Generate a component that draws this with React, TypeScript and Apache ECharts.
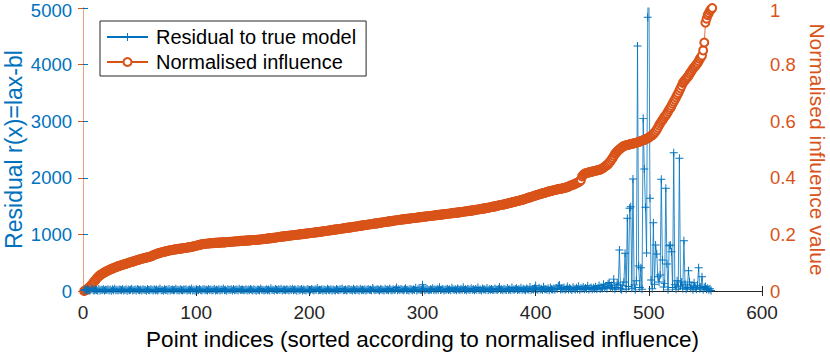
import React, { useEffect, useRef } from "react";
import * as echarts from "echarts";

const residualName = "Residual to true model";
const influenceName = "Normalised influence";

const xTicks = [0, 100, 200, 300, 400, 500, 600];

// Residual |Ax-b| per point (index 1..556), left axis
const residual: number[] = [
  12, 25, 8, 31, 17, 5, 22, 40, 14, 9, 28, 19, 6, 35, 11, 24, 16, 30, 7, 21,
  18, 33, 10, 26, 4, 29, 15, 38, 12, 20, 8, 27, 23, 13, 36, 9, 19, 31, 6, 25,
  14, 22, 41, 11, 17, 28, 7, 34, 20, 13, 26, 9, 30, 16, 24, 5, 37, 18, 12, 29,
  21, 8, 32, 15, 27, 10, 23, 44, 13, 19, 6, 30, 17, 25, 11, 35, 9, 22, 28, 14,
  16, 39, 12, 24, 7, 31, 19, 10, 27, 21, 33, 8, 18, 26, 14, 42, 11, 23, 5, 29,
  20, 13, 36, 17, 9, 25, 30, 12, 22, 8, 34, 16, 28, 11, 19, 38, 7, 24, 15, 31,
  10, 27, 18, 45, 13, 21, 6, 32, 24, 16, 29, 9, 35, 14, 20, 26, 11, 40, 17, 23,
  28, 12, 19, 33, 8, 25, 15, 37, 22, 10, 30, 18, 6, 27, 21, 13, 43, 16, 24, 9,
  19, 31, 14, 26, 11, 48, 17, 23, 8, 35, 20, 12, 29, 16, 38, 7, 25, 21, 14, 33,
  24, 9, 30, 18, 41, 13, 27, 20, 6, 34, 15, 22, 37, 11, 28, 17, 10, 31, 25, 14,
  13, 36, 21, 8, 29, 16, 52, 12, 24, 19, 33, 10, 26, 18, 7, 39, 22, 15, 30, 11,
  27, 17, 9, 34, 20, 14, 31, 23, 46, 12, 18, 28, 8, 25, 35, 16, 21, 11, 38, 19,
  15, 29, 22, 10, 40, 18, 26, 13, 32, 7, 24, 36, 17, 20, 12, 55, 28, 14, 23, 30,
  21, 11, 33, 26, 16, 9, 38, 19, 27, 14, 45, 22, 10, 31, 18, 25, 62, 13, 29, 17,
  34, 20, 12, 28, 47, 16, 23, 9, 37, 25, 14, 30, 19, 58, 11, 26, 33, 18, 21, 110,
  42, 15, 27, 36, 19, 12, 31, 24, 50, 17, 29, 13, 38, 22, 65, 16, 26, 34, 11, 28,
  23, 40, 18, 30, 14, 57, 25, 20, 33, 12, 44, 27, 16, 35, 21, 68, 19, 29, 13, 38,
  26, 17, 48, 22, 31, 15, 36, 24, 60, 18, 28, 11, 42, 25, 33, 19, 54, 14, 30, 21,
  37, 23, 16, 45, 27, 19, 34, 72, 21, 29, 13, 40, 26, 18, 51, 24, 32, 15, 63, 28,
  20, 35, 47, 17, 30, 24, 58, 19, 38, 26, 14, 44, 31, 22, 69, 18, 36, 27, 49, 95,
  33, 21, 56, 25, 40, 18, 74, 29, 36, 23, 48, 15, 62, 31, 27, 42, 20, 53, 34, 88,
  105, 26, 45, 30, 61, 22, 38, 79, 28, 51, 35, 19, 66, 41, 25, 57, 32, 84, 24, 47,
  39, 70, 29, 55, 36, 92, 27, 48, 63, 33, 58, 41, 76, 30, 52, 98, 37, 64, 45, 120,
  55, 85, 40, 130, 150, 62, 95, 48, 210,
  30, 60, 140, 110, 724, 40, 20, 95, 160, 666,
  30, 1284, 80, 1461, 1490, 50, 1979, 108, 20, 180,
  4329, 442, 60, 410, 30, 3050, 2155, 1478, 671, 4835,
  5600, 1637, 194, 40, 1207, 120, 813, 654, 250, 160,
  283, 1973, 548, 70, 130, 1814, 477, 20, 800, 813,
  695, 60, 2443, 110, 30, 180, 70, 2344, 90, 160,
  40, 889, 120, 30, 60, 359, 160, 50, 90, 20,
  147, 60, 30, 100, 412, 40, 70, 253, 20, 60,
  80, 30, 50, 20, 40, 10,
];

// Normalised influence per point (index 1..556), right axis
const influence: number[] = [
  0.000, 0.002, 0.004, 0.008, 0.011, 0.015, 0.019, 0.024, 0.029, 0.034,
  0.039, 0.044, 0.048, 0.052, 0.056, 0.058, 0.061, 0.063, 0.066, 0.068,
  0.070, 0.072, 0.074, 0.076, 0.078, 0.079, 0.081, 0.083, 0.084, 0.086,
  0.087, 0.089, 0.090, 0.091, 0.093, 0.094, 0.095, 0.096, 0.098, 0.099,
  0.100, 0.102, 0.103, 0.104, 0.105, 0.107, 0.108, 0.109, 0.110, 0.112,
  0.113, 0.114, 0.115, 0.116, 0.117, 0.118, 0.119, 0.120, 0.121, 0.122,
  0.124, 0.126, 0.128, 0.129, 0.131, 0.132, 0.134, 0.135, 0.136, 0.137,
  0.138, 0.139, 0.140, 0.141, 0.142, 0.143, 0.144, 0.144, 0.145, 0.146,
  0.147, 0.147, 0.148, 0.149, 0.149, 0.150, 0.150, 0.151, 0.151, 0.152,
  0.153, 0.153, 0.154, 0.155, 0.155, 0.156, 0.157, 0.158, 0.159, 0.160,
  0.161, 0.162, 0.163, 0.164, 0.165, 0.166, 0.166, 0.167, 0.167, 0.168,
  0.168, 0.168, 0.169, 0.169, 0.169, 0.170, 0.170, 0.170, 0.171, 0.171,
  0.171, 0.171, 0.172, 0.172, 0.172, 0.172, 0.173, 0.173, 0.173, 0.174,
  0.174, 0.174, 0.175, 0.175, 0.175, 0.176, 0.176, 0.176, 0.177, 0.177,
  0.177, 0.177, 0.178, 0.178, 0.178, 0.179, 0.179, 0.179, 0.180, 0.180,
  0.180, 0.180, 0.181, 0.181, 0.181, 0.182, 0.182, 0.183, 0.183, 0.184,
  0.184, 0.185, 0.185, 0.186, 0.186, 0.187, 0.187, 0.188, 0.188, 0.189,
  0.189, 0.190, 0.191, 0.191, 0.192, 0.192, 0.193, 0.193, 0.194, 0.194,
  0.195, 0.195, 0.196, 0.196, 0.197, 0.197, 0.198, 0.198, 0.199, 0.199,
  0.200, 0.200, 0.201, 0.201, 0.202, 0.202, 0.203, 0.203, 0.204, 0.204,
  0.205, 0.205, 0.206, 0.206, 0.207, 0.207, 0.208, 0.208, 0.209, 0.209,
  0.210, 0.211, 0.211, 0.212, 0.212, 0.213, 0.214, 0.214, 0.215, 0.215,
  0.216, 0.217, 0.217, 0.218, 0.218, 0.219, 0.219, 0.220, 0.221, 0.221,
  0.222, 0.222, 0.223, 0.224, 0.224, 0.225, 0.225, 0.226, 0.227, 0.227,
  0.228, 0.228, 0.229, 0.230, 0.230, 0.231, 0.232, 0.232, 0.233, 0.233,
  0.234, 0.235, 0.235, 0.236, 0.236, 0.237, 0.238, 0.238, 0.239, 0.239,
  0.240, 0.241, 0.241, 0.242, 0.243, 0.243, 0.244, 0.244, 0.245, 0.246,
  0.246, 0.247, 0.247, 0.248, 0.249, 0.249, 0.250, 0.250, 0.251, 0.252,
  0.252, 0.253, 0.253, 0.254, 0.254, 0.255, 0.255, 0.256, 0.256, 0.257,
  0.257, 0.258, 0.258, 0.259, 0.259, 0.260, 0.260, 0.261, 0.261, 0.262,
  0.262, 0.263, 0.263, 0.264, 0.264, 0.265, 0.265, 0.266, 0.266, 0.267,
  0.267, 0.268, 0.268, 0.269, 0.269, 0.270, 0.270, 0.271, 0.271, 0.272,
  0.272, 0.273, 0.273, 0.274, 0.274, 0.275, 0.275, 0.276, 0.276, 0.277,
  0.277, 0.278, 0.278, 0.279, 0.279, 0.280, 0.281, 0.281, 0.282, 0.282,
  0.283, 0.283, 0.284, 0.285, 0.285, 0.286, 0.287, 0.287, 0.288, 0.289,
  0.289, 0.290, 0.291, 0.291, 0.292, 0.293, 0.294, 0.294, 0.295, 0.296,
  0.297, 0.298, 0.298, 0.299, 0.300, 0.301, 0.302, 0.303, 0.304, 0.305,
  0.305, 0.306, 0.307, 0.308, 0.309, 0.310, 0.311, 0.312, 0.313, 0.314,
  0.315, 0.316, 0.317, 0.318, 0.319, 0.320, 0.321, 0.322, 0.323, 0.325,
  0.326, 0.327, 0.329, 0.330, 0.331, 0.332, 0.334, 0.335, 0.336, 0.338,
  0.339, 0.340, 0.341, 0.343, 0.344, 0.345, 0.346, 0.347, 0.348, 0.350,
  0.351, 0.352, 0.353, 0.354, 0.355, 0.356, 0.357, 0.358, 0.359, 0.360,
  0.361, 0.361, 0.362, 0.363, 0.364, 0.365, 0.366, 0.367, 0.369, 0.371,
  0.373, 0.374, 0.376, 0.377, 0.379, 0.381, 0.383, 0.385, 0.388, 0.392,
  0.405, 0.410, 0.414, 0.416, 0.417, 0.418, 0.419, 0.420, 0.421, 0.422,
  0.423, 0.424, 0.425, 0.426, 0.427, 0.428, 0.429, 0.431, 0.433, 0.436,
  0.439, 0.442, 0.445, 0.449, 0.453, 0.458, 0.464, 0.470, 0.477, 0.484,
  0.488, 0.493, 0.497, 0.500, 0.504, 0.507, 0.510, 0.512, 0.514, 0.515,
  0.516, 0.517, 0.518, 0.519, 0.520, 0.521, 0.522, 0.523, 0.524, 0.525,
  0.527, 0.528, 0.530, 0.531, 0.533, 0.534, 0.536, 0.538, 0.540, 0.542,
  0.545, 0.548, 0.551, 0.555, 0.559, 0.564, 0.570, 0.577, 0.585, 0.592,
  0.598, 0.604, 0.610, 0.616, 0.621, 0.627, 0.634, 0.641, 0.647, 0.654,
  0.662, 0.669, 0.676, 0.684, 0.692, 0.699, 0.708, 0.716, 0.725, 0.735,
  0.740, 0.745, 0.750, 0.755, 0.760, 0.767, 0.773, 0.779, 0.785, 0.790,
  0.795, 0.800, 0.805, 0.812, 0.820, 0.826, 0.832, 0.850, 0.878, 0.948,
  0.962, 0.975, 0.982, 0.990, 0.995, 1.000,
];

const BLUE = "#0072BD";
const ORANGE = "#D95319";
const FONT = "'Liberation Sans', Arial, sans-serif";
const PLUS = "path://M-0.12,-1H0.12V1H-0.12Z M-1,-0.12H1V0.12H-1Z";

export default function App() {
  const ref = useRef<HTMLDivElement>(null);
  useEffect(() => {
    if (!ref.current) return;
    const chart = echarts.init(ref.current, undefined, { renderer: "svg" });
    const resData = residual.map((v, i) => [i + 1, v]);
    const infData = influence.map((v, i) => [i + 1, v]);
    chart.setOption({
      animation: false,
      backgroundColor: "#fff",
      textStyle: { fontFamily: FONT },
      grid: { left: 83, right: 68, top: 8, bottom: 62, containLabel: false, outerBoundsMode: "none" },
      legend: {
        data: [residualName, influenceName],
        orient: "vertical",
        left: 100,
        top: 21,
        padding: [5, 10, 3, 6],
        itemGap: 3,
        itemWidth: 41,
        itemHeight: 10,
        borderColor: "#262626",
        borderWidth: 1,
        backgroundColor: "#fff",
        textStyle: { fontSize: 20, color: "#000", fontFamily: FONT, lineHeight: 22, padding: [0, 0, 0, 3] },
      },
      xAxis: [
        {
          type: "value",
          min: xTicks[0],
          max: xTicks[xTicks.length - 1],
          interval: 100,
          position: "bottom",
          name: "Point indices (sorted according to normalised influence)",
          nameLocation: "middle",
          nameGap: 37,
          nameMoveOverlap: false,
          nameTextStyle: { fontSize: 22.5, color: "#000", fontFamily: FONT },
          axisLine: { lineStyle: { color: "#262626", width: 1 } },
          axisTick: { inside: true, length: 5, lineStyle: { color: "#262626" } },
          axisLabel: { fontSize: 19, color: "#262626", margin: 12, fontFamily: FONT },
          splitLine: { show: false },
        },
        {
          type: "value",
          min: xTicks[0],
          max: xTicks[xTicks.length - 1],
          interval: 100,
          position: "top",
          axisLine: { lineStyle: { color: "#262626", width: 1 } },
          axisTick: { inside: true, length: 5, lineStyle: { color: "#262626" } },
          axisLabel: { show: false },
          splitLine: { show: false },
        },
      ],
      yAxis: [
        {
          type: "value",
          min: 0,
          max: 5000,
          interval: 1000,
          position: "left",
          name: "Residual r(x)=lax-bl",
          nameLocation: "middle",
          nameGap: 58,
          nameMoveOverlap: false,
          nameTextStyle: { fontSize: 23, color: BLUE, fontFamily: FONT },
          axisLine: { show: true, lineStyle: { color: "#5c9fd4", width: 1 } },
          axisTick: { show: true, inside: true, length: 5, lineStyle: { color: BLUE } },
          axisLabel: {
            fontSize: 18.5,
            color: BLUE,
            margin: 11,
            fontFamily: FONT,
            formatter: (v: number) => (v === 5000 ? "{t|" + v + "}" : String(v)),
            rich: { t: { fontSize: 18.5, color: BLUE, fontFamily: FONT, padding: [4, 0, 0, 0] } },
          },
          splitLine: { show: false },
        },
        {
          type: "value",
          min: 0,
          max: 1,
          interval: 0.2,
          position: "right",
          name: "Normalised influence value",
          nameLocation: "middle",
          nameGap: 45,
          nameMoveOverlap: false,
          nameRotate: -90,
          nameTextStyle: { fontSize: 21, color: ORANGE, fontFamily: FONT },
          axisLine: { show: true, lineStyle: { color: "#eaa282", width: 1 } },
          axisTick: { show: true, inside: true, length: 5, lineStyle: { color: ORANGE } },
          axisLabel: {
            fontSize: 18.5,
            color: ORANGE,
            margin: 8,
            fontFamily: FONT,
            formatter: (v: number) => (v === 1 ? "{t|1}" : String(v)),
            rich: { t: { fontSize: 18.5, color: ORANGE, fontFamily: FONT, padding: [4, 0, 0, 0] } },
          },
          splitLine: { show: false },
        },
      ],
      series: [
        {
          name: influenceName,
          type: "line",
          xAxisIndex: 0,
          yAxisIndex: 1,
          data: infData,
          symbol: "emptyCircle",
          symbolSize: 8,
          showAllSymbol: true,
          clip: true,
          lineStyle: { color: ORANGE, width: 0.8 },
          itemStyle: { color: ORANGE, borderColor: ORANGE, borderWidth: 0.9 },
          emphasis: { disabled: true },
        },
        {
          name: residualName,
          type: "line",
          xAxisIndex: 0,
          yAxisIndex: 0,
          data: resData,
          symbol: PLUS,
          symbolSize: 8,
          showAllSymbol: true,
          clip: true,
          lineStyle: { color: BLUE, width: 0.8 },
          itemStyle: { color: BLUE },
          emphasis: { disabled: true },
        },
      ],
    });
    return () => chart.dispose();
  }, []);
  return <div ref={ref} style={{ width: 830, height: 353, position: "absolute", left: 0, top: 0 }} />;
}
